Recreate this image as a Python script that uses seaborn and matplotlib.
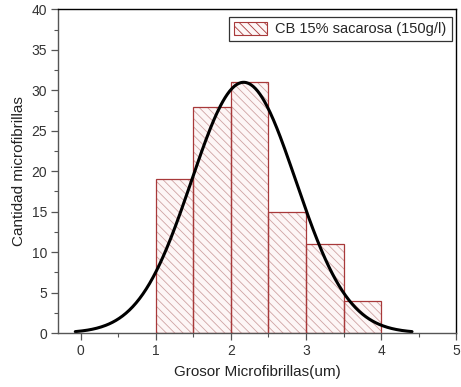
import numpy as np
import pandas as pd
import matplotlib
matplotlib.use("Agg")
import matplotlib.pyplot as plt
import seaborn as sns
from matplotlib.patches import Patch

# Data
bin_edges = [1.0, 1.5, 2.0, 2.5, 3.0, 3.5, 4.0]
bin_centers = [1.25, 1.75, 2.25, 2.75, 3.25, 3.75]
counts = [19, 28, 31, 15, 11, 4]
fit_mean = 2.17
fit_sigma = 0.695
fit_area = 54.0  # total count * bin width
curve_range = [-0.07, 4.41]
series_label = "CB 15% sacarosa (150g/l)"
xlabel = "Grosor Microfibrillas(um)"
ylabel = "Cantidad microfibrillas"

sns.set_style("white")
plt.rcParams['font.family'] = ['Liberation Sans', 'DejaVu Sans']
plt.rcParams['hatch.linewidth'] = 0.6

fig = plt.figure(figsize=(4.61, 3.87), dpi=100)
ax = fig.add_axes([0.1258, 0.1395, 0.8642, 0.836])

df = pd.DataFrame({"x": bin_centers, "n": counts})
hatch_col = "#cfa3a3"
edge_col = "#a8393a"
hatch_pat = "\\\\\\\\"
plt.rcParams['hatch.color'] = hatch_col
sns.histplot(data=df, x="x", weights="n", bins=bin_edges, ax=ax,
             facecolor="#fdf6f6", edgecolor=hatch_col, linewidth=0,
             hatch=hatch_pat, alpha=1)
sns.histplot(data=df, x="x", weights="n", bins=bin_edges, ax=ax,
             fill=False, color=edge_col, linewidth=0.9)

xc = np.linspace(curve_range[0], curve_range[1], 300)
yc = fit_area / (fit_sigma * np.sqrt(2 * np.pi)) * np.exp(-0.5 * ((xc - fit_mean) / fit_sigma) ** 2)
sns.lineplot(x=xc, y=yc, ax=ax, color="black", linewidth=2.2)

ax.set_xlim(-0.3, 5.0)
ax.set_ylim(0, 40)
ax.set_xticks([0, 1, 2, 3, 4, 5])
ax.set_xticks(np.arange(0.5, 5, 1.0), minor=True)
ax.set_yticks(np.arange(0, 41, 5))
ax.set_yticks(np.arange(2.5, 40, 5), minor=True)
ax.tick_params(axis='both', which='major', direction='out', length=5, width=0.9,
               color='#555555', labelsize=10, labelcolor='#333333',
               bottom=True, left=True, top=False, right=False, pad=3)
ax.tick_params(axis='both', which='minor', direction='out', length=3, width=0.8,
               color='#555555', bottom=True, left=True, top=False, right=False)

for s in ['left', 'bottom']:
    ax.spines[s].set_color('#555555')
    ax.spines[s].set_linewidth(1.0)
for s in ['top', 'right']:
    ax.spines[s].set_color('black')
    ax.spines[s].set_linewidth(1.0)

ax.set_xlabel(xlabel, fontsize=11, color='#222222', labelpad=5)
ax.set_ylabel(ylabel, fontsize=11, color='#222222', labelpad=4)

handle = Patch(facecolor="#fdf6f6", edgecolor=edge_col, hatch=hatch_pat, linewidth=0.8)
leg = ax.legend([handle], [series_label], loc='upper right', bbox_to_anchor=(0.988, 0.978),
                fontsize=10.5, frameon=True, fancybox=False, edgecolor='black',
                borderpad=0.35, handlelength=2.2, handleheight=1.0, handletextpad=0.6,
                borderaxespad=0)
leg.get_frame().set_linewidth(0.9)

fig.savefig("out.png", dpi=100)
